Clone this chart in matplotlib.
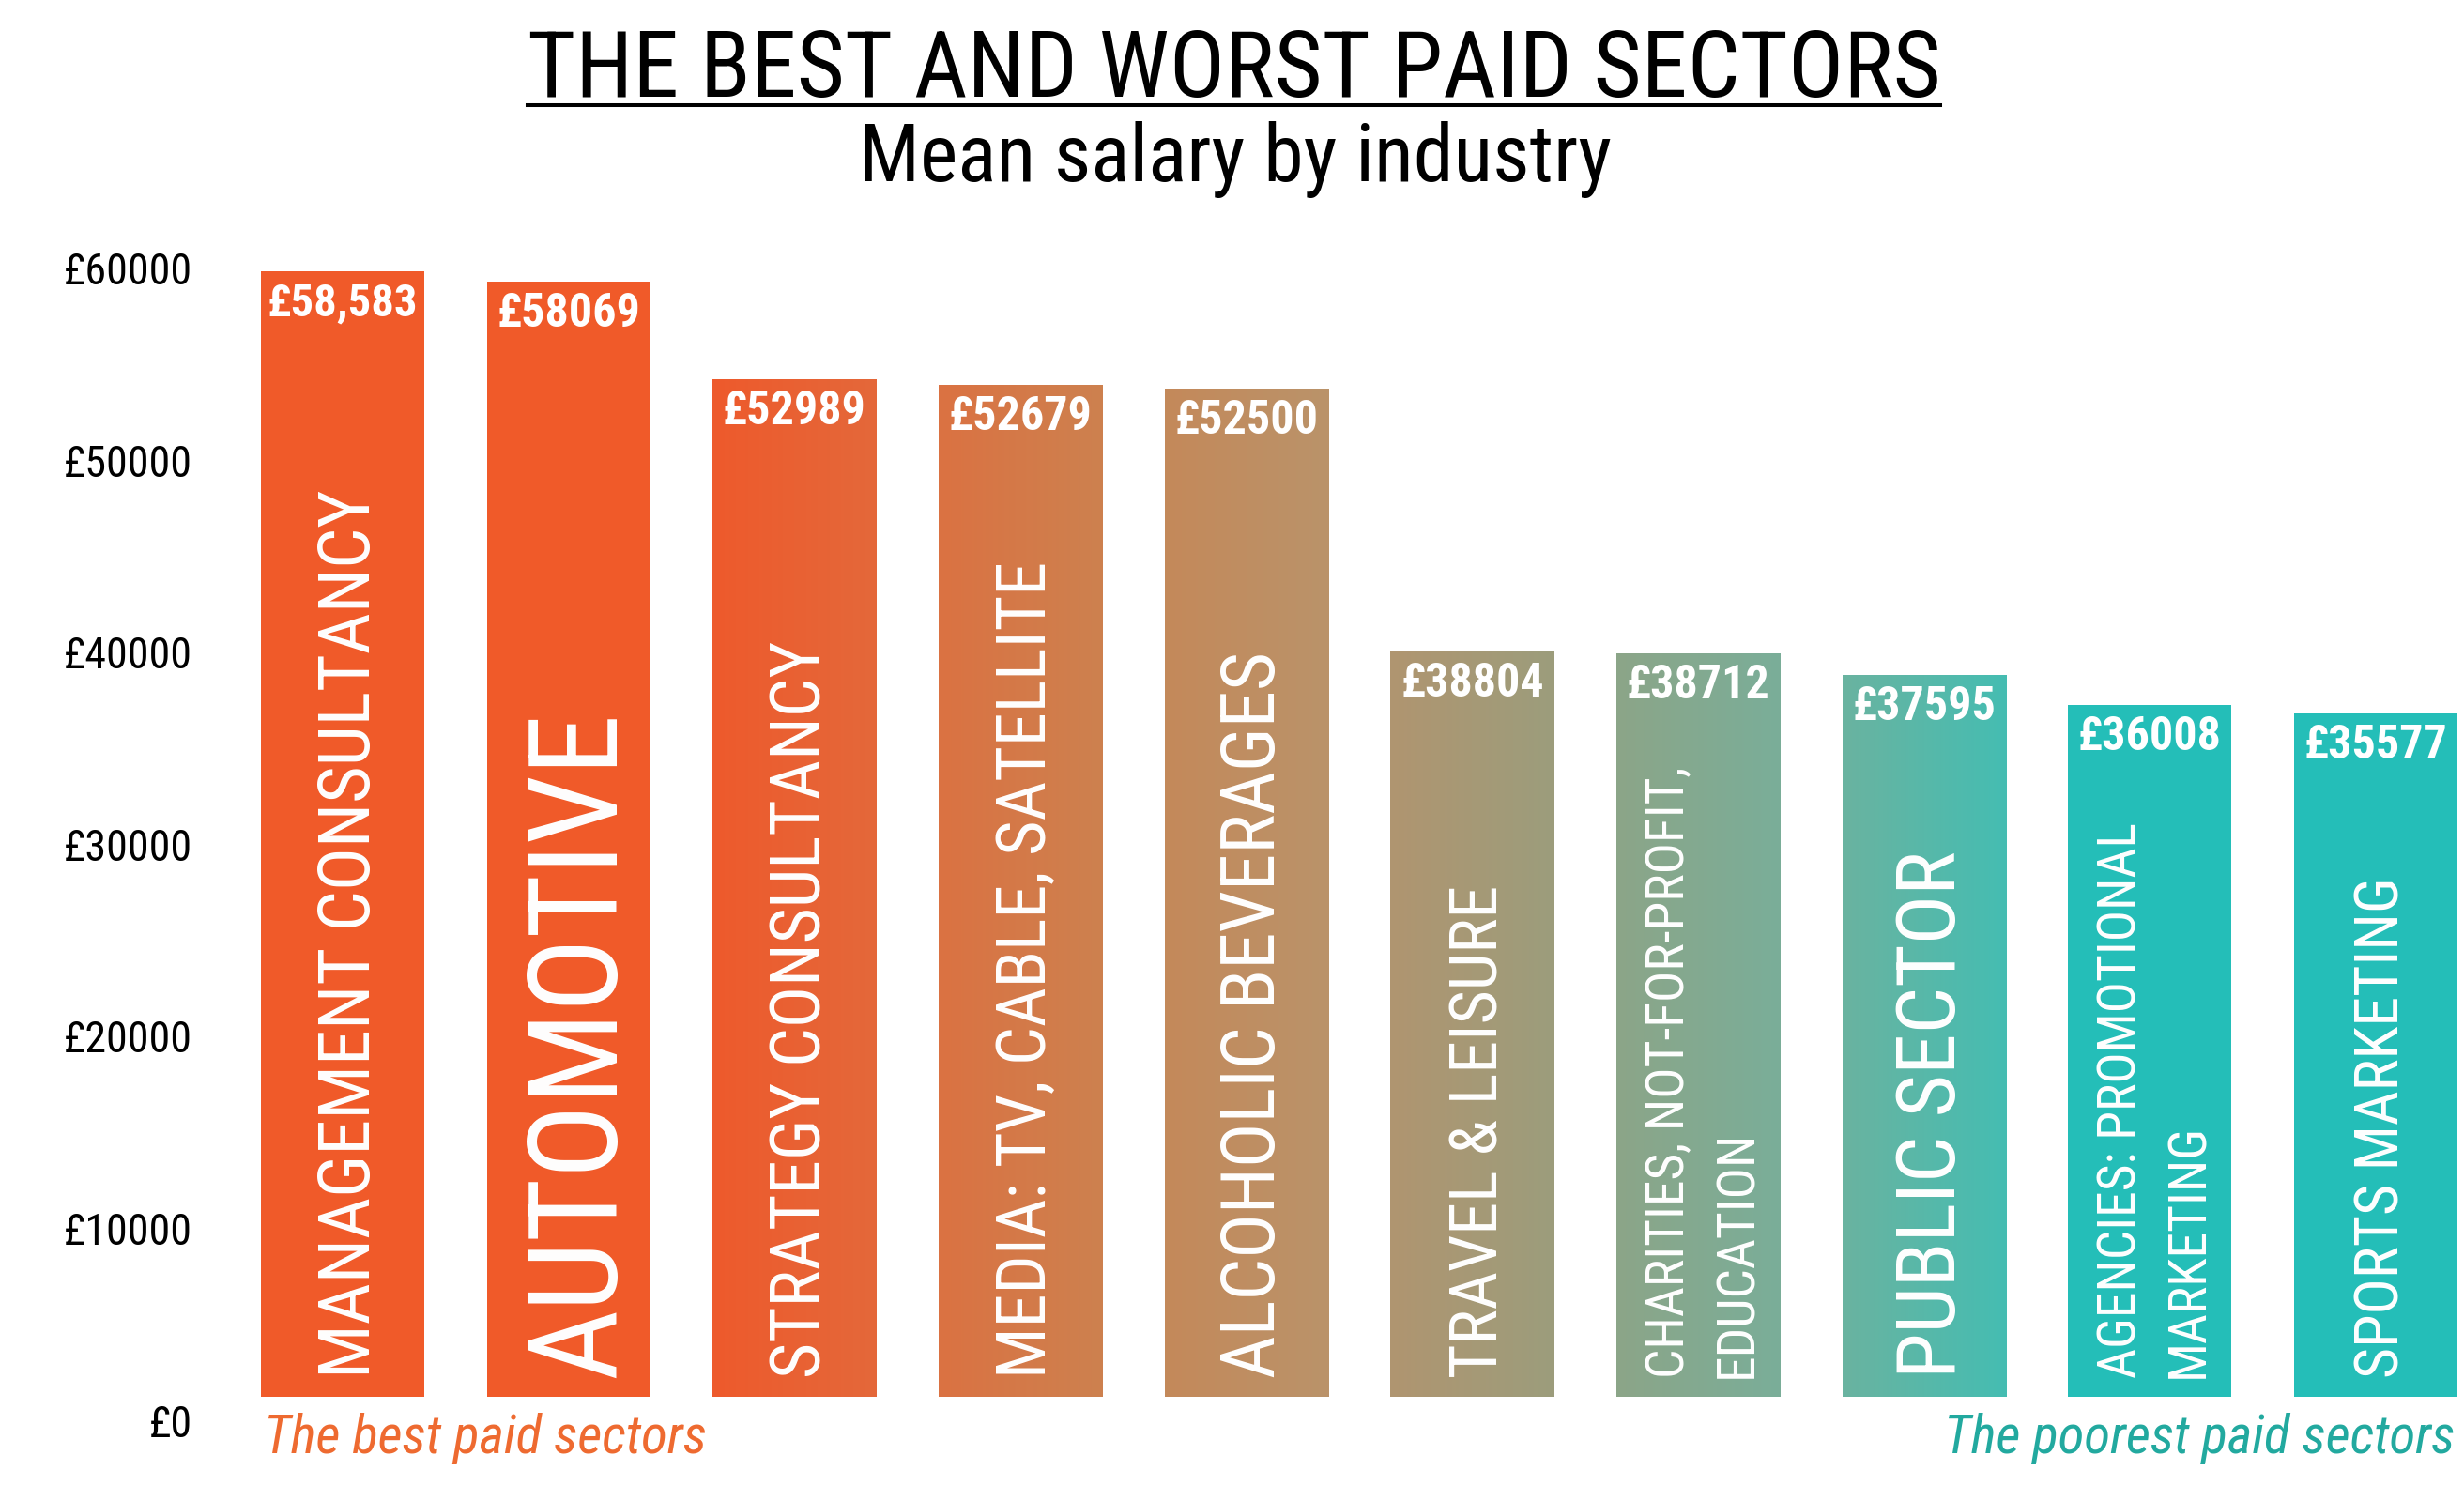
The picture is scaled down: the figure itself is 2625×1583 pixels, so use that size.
import numpy as np
import matplotlib
matplotlib.use("Agg")
import matplotlib.pyplot as plt
from matplotlib.colors import LinearSegmentedColormap
from matplotlib.transforms import ScaledTranslation, offset_copy
from matplotlib.lines import Line2D

# data
sectors = [
    "MANAGEMENT CONSULTANCY",
    "AUTOMOTIVE",
    "STRATEGY CONSULTANCY",
    "MEDIA: TV, CABLE, SATELLITE",
    "ALCOHOLIC BEVERAGES",
    "TRAVEL & LEISURE",
    "CHARITIES, NOT-FOR-PROFIT,\nEDUCATION",
    "PUBLIC SECTOR",
    "AGENCIES: PROMOTIONAL\nMARKETING",
    "SPORTS MARKETING",
]
salaries = [58583, 58069, 52989, 52679, 52500, 38804, 38712, 37595, 36008, 35577]
value_labels = ["£58,583", "£58069", "£52989", "£52679", "£52500",
                "£38804", "£38712", "£37595", "£36008", "£35577"]
yticks = [0, 10000, 20000, 30000, 40000, 50000, 60000]
ytick_labels = ["£0", "£10000", "£20000", "£30000", "£40000", "£50000", "£60000"]

# styles
label_sizes = [55, 94, 53, 52, 57, 50.5, 40, 63, 40, 46]
bar_colors = [
    ("#F05A29", "#F05A29"),
    ("#F05A29", "#F05A29"),
    ("#EE5A2C", "#E4683A"),
    ("#DB7242", "#CD814F"),
    ("#C4895A", "#BA936A"),
    ("#B09570", "#9C9D7C"),
    ("#8CA588", "#7AAE99"),
    ("#6AB3A0", "#45BDB2"),
    ("#24BEB8", "#24BEB8"),
    ("#24BEB8", "#24BEB8"),
]

plt.rcParams["font.family"] = ["Roboto Condensed", "Liberation Sans Narrow",
                               "Noto Sans Condensed", "DejaVu Sans Condensed",
                               "Roboto", "DejaVu Sans"]
plt.rcParams["font.stretch"] = "condensed"

fig = plt.figure(figsize=(26.25, 15.83), dpi=100)
ax = fig.add_axes([0.0932, 0.0600, 0.9068, 0.7755])

x = np.arange(len(sectors))
bars = ax.bar(x, salaries, width=0.723, color=[c[0] for c in bar_colors], zorder=2)

# horizontal gradient inside the bars
grad = np.linspace(0, 1, 256).reshape(1, -1)
for bar, (c0, c1) in zip(bars, bar_colors):
    if c0 == c1:
        continue
    cmap = LinearSegmentedColormap.from_list("g", [c0, c1])
    x0 = bar.get_x()
    im = ax.imshow(grad, cmap=cmap, aspect="auto", interpolation="bilinear",
                   extent=[x0, x0 + bar.get_width(), 0, bar.get_height()], zorder=2.5)
    im.set_clip_path(bar)

ax.set_xlim(-0.5, 9.3905)
ax.set_ylim(0, 60000)

# value labels
value_texts = []
for xi, v, lab in zip(x, salaries, value_labels):
    t = ax.text(xi, v, lab, ha="center", va="top", color="white", fontsize=36,
                fontweight="bold", zorder=4,
                transform=offset_copy(ax.transData, fig=fig, y=-8, units="points"))
    value_texts.append(t)

# sector names inside bars
name_texts = []
for xi, name, size in zip(x, sectors, label_sizes):
    t = ax.text(xi, 1000, name, rotation=90, rotation_mode="anchor", ha="left",
                va="center", color="white", fontsize=size, linespacing=1.45, zorder=4,
                transform=offset_copy(ax.transData, fig=fig, x=0.107 * size, units="points"))
    name_texts.append(t)

ax.set_xticks([])
ax.set_yticks(yticks, ytick_labels, fontsize=33)
ax.tick_params(axis="y", length=0, pad=28.5)
for lab in ax.get_yticklabels():
    lab.set_transform(lab.get_transform() + ScaledTranslation(0, -0.25, fig.dpi_scale_trans))
for sp in ax.spines.values():
    sp.set_visible(False)

title = fig.text(0.5008, 1 - 103 / 1583, "THE BEST AND WORST PAID SECTORS",
                 ha="center", va="baseline", fontsize=71, color="black")
fig.text(0.5013, 1 - 193 / 1583, "Mean salary by industry",
         ha="center", va="baseline", fontsize=62, color="black")

fig.text(281 / 2625, 1 - 1548 / 1583, "The best paid sectors", style="italic",
         ha="left", va="baseline", fontsize=41, color="#EE6A30")
fig.text(2615 / 2625, 1 - 1548 / 1583, "The poorest paid sectors", style="italic",
         ha="right", va="baseline", fontsize=41, color="#22A99F")

# shrink labels that do not fit the bars (depends on which font got picked)
fig.canvas.draw()
r = fig.canvas.get_renderer()
for bar, t, nt in zip(bars, value_texts, name_texts):
    bx = ax.transData.transform([(bar.get_x(), 0), (bar.get_x() + bar.get_width(), bar.get_height())])
    maxw = 0.92 * (bx[1, 0] - bx[0, 0])
    w = t.get_window_extent(r).width
    if w > maxw:
        t.set_fontsize(t.get_fontsize() * maxw / w)
    maxh = (bx[1, 1] - 110) - nt.get_window_extent(r).y0
    h = nt.get_window_extent(r).height
    if h > maxh:
        nt.set_fontsize(nt.get_fontsize() * maxh / h)

# underline the title
fig.canvas.draw()
bb = title.get_window_extent()
W, H = fig.bbox.width, fig.bbox.height
uy = 1 - 112 / 1583
fig.add_artist(Line2D([bb.x0 / W, bb.x1 / W], [uy, uy], color="black", linewidth=2.9))

fig.savefig("out.png", dpi=100)
